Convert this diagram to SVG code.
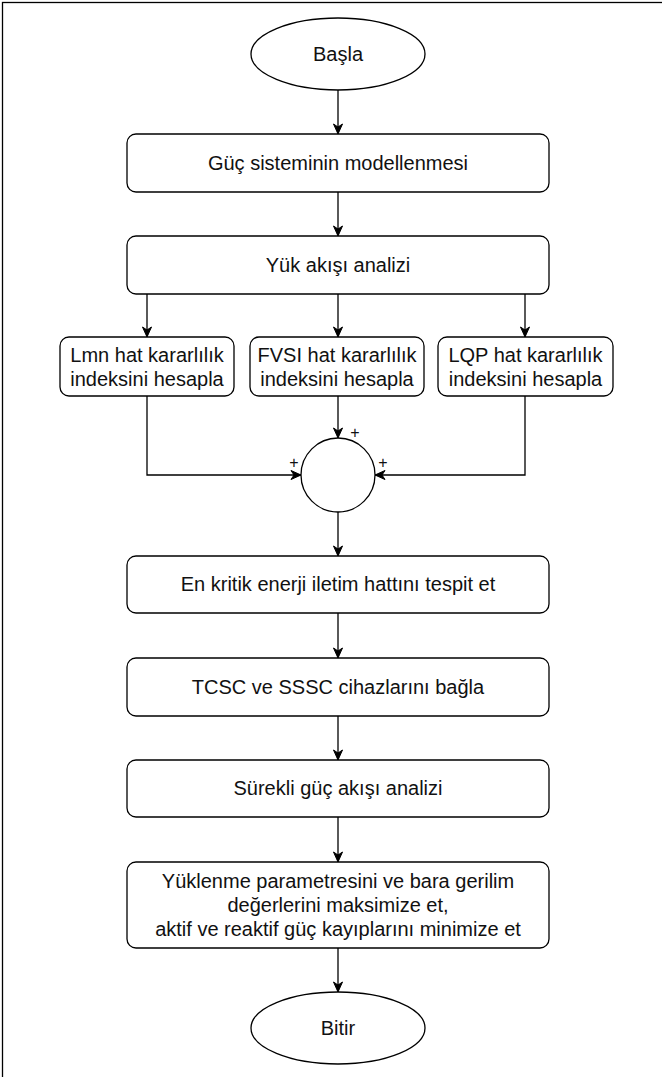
<svg xmlns="http://www.w3.org/2000/svg" width="662" height="1077" viewBox="0 0 662 1077">
<style>
.shape{fill:#fff;stroke:#000;stroke-width:1.3}
.t{font-family:"Liberation Sans",Arial,sans-serif;font-size:20px;fill:#111;text-anchor:middle}
.pl{font-family:"Liberation Sans",Arial,sans-serif;font-size:16px;fill:#111;text-anchor:middle}
.c{fill:none;stroke:#000;stroke-width:1.3}
</style>
<defs>
<marker id="arr" markerUnits="userSpaceOnUse" markerWidth="12" markerHeight="12" viewBox="0 0 12 12" refX="11" refY="6" orient="auto">
<path d="M1,1.5 L11,6 L1,10.5 L4,6 Z" fill="#000" stroke="#000" stroke-width="1"/>
</marker>
</defs>
<rect x="2.5" y="2.5" width="720" height="1120" fill="none" stroke="#000" stroke-width="1.3"/>
<g id="connectors">
<path class="c" d="M338,90 V134" marker-end="url(#arr)"/>
<path class="c" d="M338,192 V236" marker-end="url(#arr)"/>
<path class="c" d="M147,294 V337" marker-end="url(#arr)"/>
<path class="c" d="M338,294 V337" marker-end="url(#arr)"/>
<path class="c" d="M525,294 V337" marker-end="url(#arr)"/>
<path class="c" d="M338,396 V438" marker-end="url(#arr)"/>
<path class="c" d="M147,396 V475 H301" marker-end="url(#arr)"/>
<path class="c" d="M525,396 V475 H375" marker-end="url(#arr)"/>
<path class="c" d="M338,512 V556" marker-end="url(#arr)"/>
<path class="c" d="M338,613 V658" marker-end="url(#arr)"/>
<path class="c" d="M338,716 V760" marker-end="url(#arr)"/>
<path class="c" d="M338,817 V862" marker-end="url(#arr)"/>
<path class="c" d="M338,948 V992" marker-end="url(#arr)"/>
</g>
<g id="start">
<ellipse class="shape" cx="338" cy="54" rx="87" ry="36"/>
<text class="t" x="338" y="61">Başla</text>
</g>
<g id="model">
<rect class="shape" x="127" y="134" width="422" height="58" rx="9"/>
<text class="t" x="338" y="170">Güç sisteminin modellenmesi</text>
</g>
<g id="loadflow">
<rect class="shape" x="127" y="236" width="422" height="58" rx="9"/>
<text class="t" x="338" y="272">Yük akışı analizi</text>
</g>
<g id="lmn">
<rect class="shape" x="60" y="337" width="174" height="59" rx="9"/>
<text class="t" x="147" y="362">Lmn hat kararlılık</text>
<text class="t" x="147" y="386">indeksini hesapla</text>
</g>
<g id="fvsi">
<rect class="shape" x="250" y="337" width="174" height="59" rx="9"/>
<text class="t" x="337" y="362">FVSI hat kararlılık</text>
<text class="t" x="337" y="386">indeksini hesapla</text>
</g>
<g id="lqp">
<rect class="shape" x="438" y="337" width="175" height="59" rx="9"/>
<text class="t" x="525.5" y="362">LQP hat kararlılık</text>
<text class="t" x="525.5" y="386">indeksini hesapla</text>
</g>
<g id="sum">
<circle class="shape" cx="338" cy="475" r="37"/>
<text class="pl" x="355" y="438">+</text>
<text class="pl" x="294" y="468">+</text>
<text class="pl" x="383" y="468">+</text>
</g>
<g id="critical">
<rect class="shape" x="127" y="556" width="422" height="57" rx="9"/>
<text class="t" x="338" y="591">En kritik enerji iletim hattını tespit et</text>
</g>
<g id="devices">
<rect class="shape" x="127" y="658" width="422" height="58" rx="9"/>
<text class="t" x="338" y="694">TCSC ve SSSC cihazlarını bağla</text>
</g>
<g id="cpf">
<rect class="shape" x="127" y="760" width="422" height="57" rx="9"/>
<text class="t" x="338" y="795">Sürekli güç akışı analizi</text>
</g>
<g id="optimize">
<rect class="shape" x="127" y="862" width="422" height="86" rx="9"/>
<text class="t" x="338" y="888">Yüklenme parametresini ve bara gerilim</text>
<text class="t" x="338" y="912">değerlerini maksimize et,</text>
<text class="t" x="338" y="936">aktif ve reaktif güç kayıplarını minimize et</text>
</g>
<g id="end">
<ellipse class="shape" cx="338" cy="1028" rx="87" ry="36"/>
<text class="t" x="338" y="1035">Bitir</text>
</g>
</svg>
